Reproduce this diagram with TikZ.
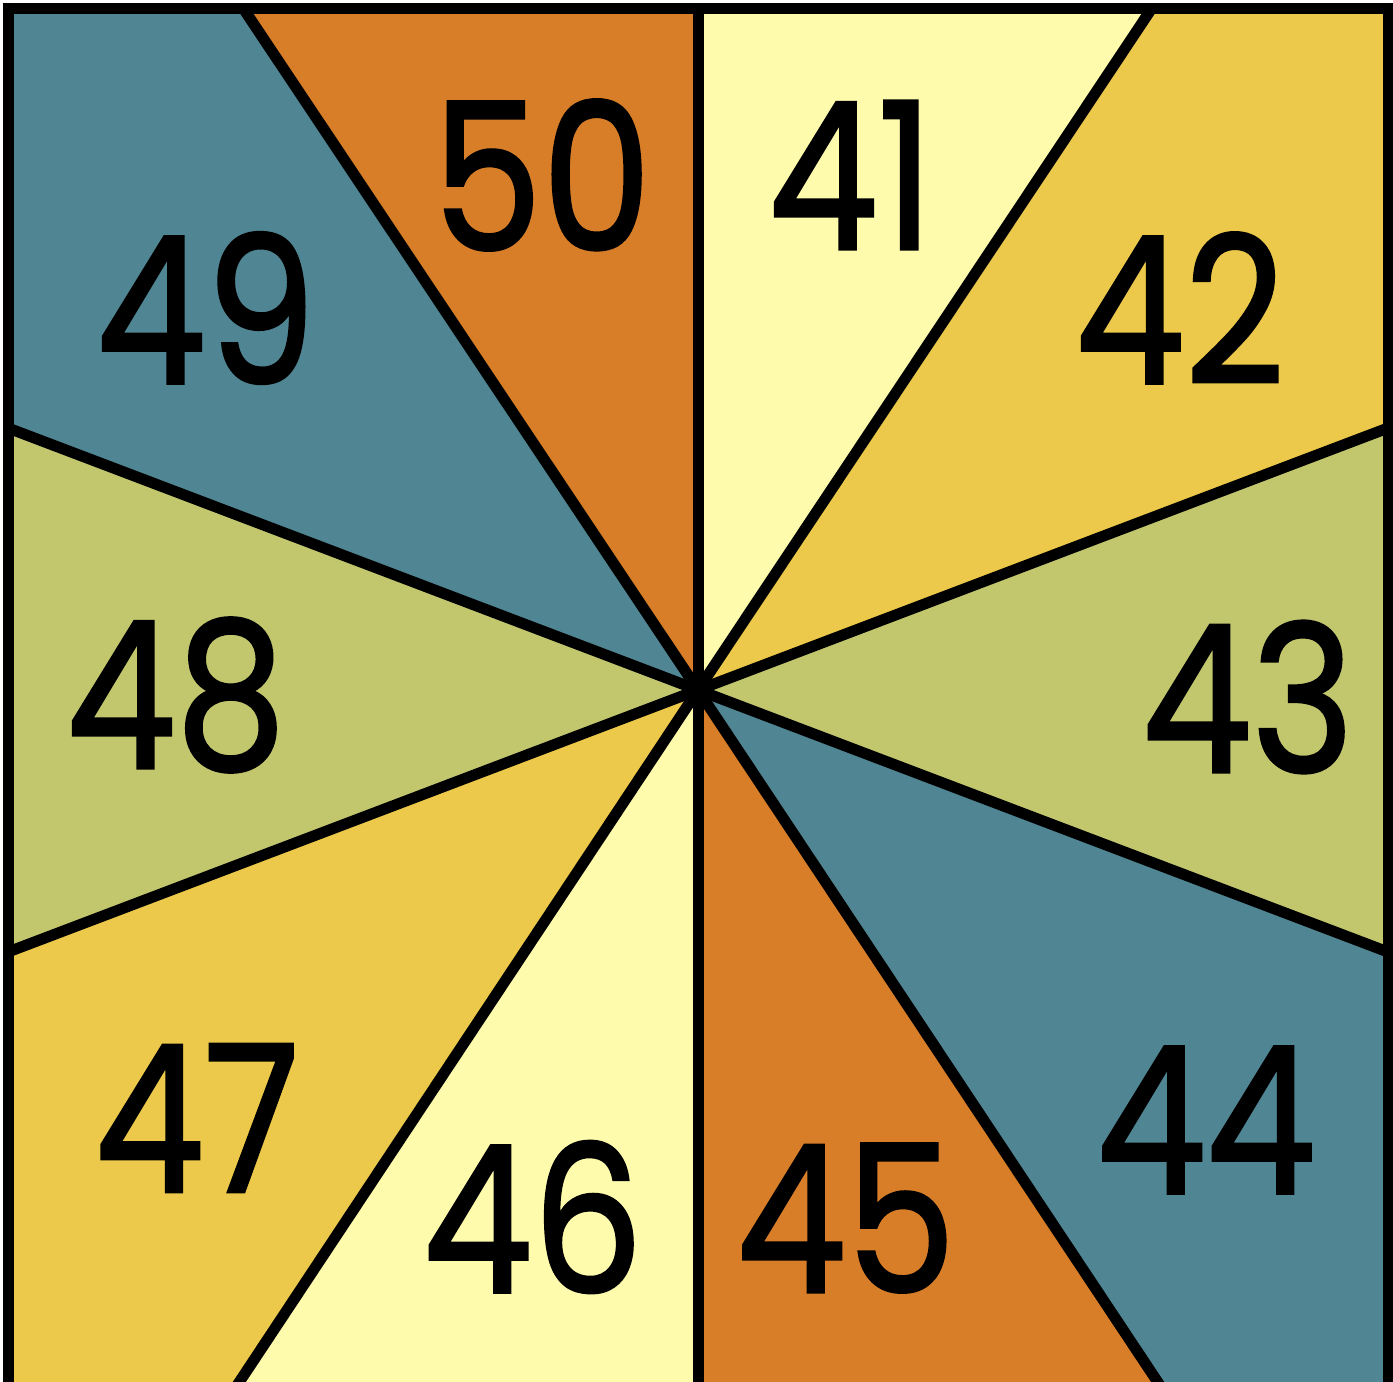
\documentclass[tikz,border=0pt]{standalone}
\usepackage{fontspec}
\setmainfont{Poppins}
\newfontfamily\numfont[FakeBold=1.5]{Poppins}
\definecolor{teal}{HTML}{508594}
\definecolor{orng}{HTML}{D97E28}
\definecolor{lyel}{HTML}{FFFBAD}
\definecolor{yel}{HTML}{ECC94A}
\definecolor{grn}{HTML}{C2C76E}
\tikzset{
  num/.style={font=\numfont\fontsize{205}{205}\selectfont, inner sep=0pt, anchor=center, text=black, xscale=0.85},
  spoke/.style={line width=11pt, black},
}
\begin{document}
\begin{tikzpicture}[x=1pt,y=-1pt]
\useasboundingbox (0,0) rectangle (1393,1382);
\clip (0,0) rectangle (1393,1382);
\coordinate (c) at (698,690);
\coordinate (tl) at (8,8);
\coordinate (tr) at (1388,8);
\coordinate (br) at (1388,1390);
\coordinate (bl) at (8,1390);
\coordinate (t0) at (698,8);
\coordinate (t1) at (243,8);
\coordinate (t2) at (1152,8);
\coordinate (l1) at (8,428);
\coordinate (l2) at (8,952);
\coordinate (r1) at (1388,428);
\coordinate (r2) at (1388,952);
\coordinate (b0) at (698,1390);
\coordinate (b1) at (234,1390);
\coordinate (b2) at (1163,1390);
% sectors
\fill[orng] (c) -- (t1) -- (t0) -- cycle;
\fill[lyel] (c) -- (t0) -- (t2) -- cycle;
\fill[yel] (c) -- (t2) -- (tr) -- (r1) -- cycle;
\fill[grn] (c) -- (r1) -- (r2) -- cycle;
\fill[teal] (c) -- (r2) -- (br) -- (b2) -- cycle;
\fill[orng] (c) -- (b2) -- (b0) -- cycle;
\fill[lyel] (c) -- (b0) -- (b1) -- cycle;
\fill[yel] (c) -- (b1) -- (bl) -- (l2) -- cycle;
\fill[grn] (c) -- (l2) -- (l1) -- cycle;
\fill[teal] (c) -- (l1) -- (tl) -- (t1) -- cycle;
% spokes
\foreach \p in {t0,t1,t2,l1,l2,r1,r2,b0,b1,b2} \draw[spoke] (c) -- (\p);
\draw[spoke] (tl) rectangle (br);
% numbers
\node[num] (n50) at (542,175) {50};
\node[num] (n41) at (851,175) {41};
\node[num] (n42) at (1180,308) {42};
\node[num] (n43) at (1248,697) {43};
\node[num] (n44) at (1206,1120) {44};
\node[num] (n45) at (846,1218) {45};
\node[num] (n46) at (533,1217) {46};
\node[num] (n47) at (197,1118) {47};
\node[num] (n48) at (176,695) {48};
\node[num] (n49) at (206,308) {49};
\end{tikzpicture}
\end{document}
